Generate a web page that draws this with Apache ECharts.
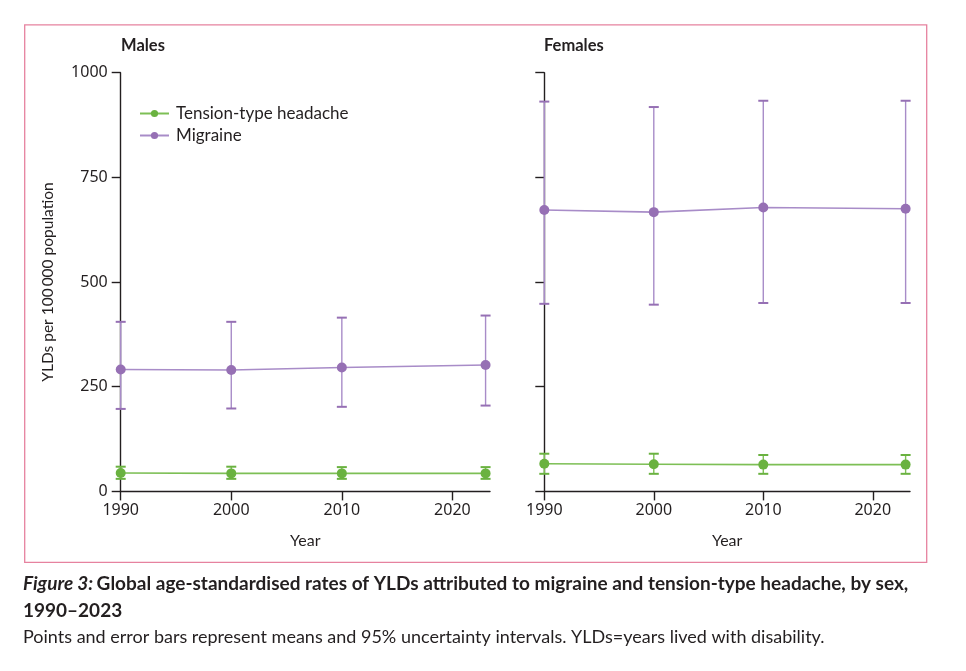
<!DOCTYPE html>
<html>
<head>
<meta charset="utf-8">
<title>Figure 3</title>
<script src="https://cdn.jsdelivr.net/npm/echarts@6/dist/echarts.min.js"></script>
<style>
  html, body { margin: 0; padding: 0; background: #fff; }
  #main { width: 966px; height: 671px; }
</style>
</head>
<body>
<div id="main"></div>
<script>
// data (YLDs per 100 000)
const years = [1990, 2000, 2010, 2023];
const xTicks = [1990, 2000, 2010, 2020];
const yTicks = [0, 250, 500, 750, 1000];

const maleMigraine = [291, 290, 296, 302];
const maleMigraineLow = [197, 198, 202, 205];
const maleMigraineHigh = [405, 405, 415, 420];
const maleTTH = [44, 43, 43, 43];
const maleTTHLow = [30, 30, 30, 30];
const maleTTHHigh = [59, 59, 58, 58];

const femaleMigraine = [672, 667, 678, 675];
const femaleMigraineLow = [448, 446, 450, 450];
const femaleMigraineHigh = [931, 918, 933, 933];
const femaleTTH = [66, 65, 64, 64];
const femaleTTHLow = [42, 42, 42, 42];
const femaleTTHHigh = [90, 90, 87, 87];

const GREEN = '#6ab240';
const GREEN_LINE = '#7dbf55';
const PURPLE = '#9670b4';
const PURPLE_LINE = '#a88cc8';
const INK = '#231f20';
const FONT = 'Lato, "Noto Sans", sans-serif';
const TICK_FONT = '"Noto Sans", Lato, sans-serif';

function pairs(vals) {
    return years.map((y, i) => [y, vals[i]]);
}

function bars(low, high) {
    return years.map((y, i) => [y, low[i], high[i]]);
}

// vertical whisker with a cap at each end
function errorBar(params, api) {
    const x = api.value(0);
    const lo = api.coord([x, api.value(1)]);
    const hi = api.coord([x, api.value(2)]);
    const half = 5;
    const style = api.style();
    return {
        type: 'group',
        children: [
            { type: 'line', shape: { x1: lo[0], y1: lo[1], x2: hi[0], y2: hi[1] },
              style: { stroke: style.fill, lineWidth: 1.4 } },
            { type: 'line', shape: { x1: lo[0] - half, y1: lo[1], x2: lo[0] + half, y2: lo[1] },
              style: { stroke: style.stroke, lineWidth: 2 } },
            { type: 'line', shape: { x1: hi[0] - half, y1: hi[1], x2: hi[0] + half, y2: hi[1] },
              style: { stroke: style.stroke, lineWidth: 2 } }
        ]
    };
}

function errorSeries(idx, data, lineColor, capColor) {
    return {
        type: 'custom',
        xAxisIndex: idx,
        yAxisIndex: idx,
        renderItem: errorBar,
        itemStyle: { color: lineColor, borderColor: capColor },
        data: data,
        z: 2,
        silent: true
    };
}

function meanSeries(idx, name, data, lineColor, dotColor) {
    return {
        type: 'line',
        name: name,
        xAxisIndex: idx,
        yAxisIndex: idx,
        data: data,
        symbol: 'circle',
        symbolSize: 10,
        showSymbol: true,
        lineStyle: { color: lineColor, width: 1.6 },
        itemStyle: { color: dotColor },
        z: 3,
        silent: true
    };
}

function plain(v) {
    return String(v);
}

function xAxis(idx) {
    return {
        type: 'value',
        gridIndex: idx,
        min: 1990,
        max: 2023.4,
        interval: 10,
        name: 'Year',
        nameLocation: 'middle',
        nameGap: 41,
        nameTextStyle: { color: INK, fontSize: 16, fontFamily: FONT },
        axisLine: { show: true, lineStyle: { color: INK, width: 1.4 } },
        axisTick: { show: true, length: 9, customValues: xTicks, lineStyle: { color: INK, width: 1.4 } },
        axisLabel: { customValues: xTicks, formatter: plain, margin: 11, color: INK, fontSize: 16, fontFamily: TICK_FONT },
        splitLine: { show: false }
    };
}

function yAxis(idx, withLabels) {
    return {
        type: 'value',
        gridIndex: idx,
        min: 0,
        max: 1000,
        interval: 250,
        name: withLabels ? 'YLDs per 100\u2009000 population' : '',
        nameLocation: 'middle',
        nameGap: 65,
        nameTextStyle: { color: INK, fontSize: 15.5, fontFamily: FONT },
        axisLine: { show: true, lineStyle: { color: INK, width: 1.4 } },
        axisTick: { show: true, length: 9, lineStyle: { color: INK, width: 1.4 } },
        axisLabel: { show: withLabels, customValues: yTicks, formatter: plain, margin: 13, color: INK, fontSize: 16, fontFamily: TICK_FONT },
        splitLine: { show: false }
    };
}

const chart = echarts.init(document.getElementById('main'), null, { renderer: 'canvas' });

const option = {
    backgroundColor: '#fff',
    animation: false,
    textStyle: { fontFamily: FONT },
    title: [
        { text: 'Males', left: 121, top: 37, padding: 0,
          textStyle: { fontSize: 16.5, fontWeight: 'bold', color: INK, fontFamily: FONT } },
        { text: 'Females', left: 544, top: 37, padding: 0,
          textStyle: { fontSize: 16.5, fontWeight: 'bold', color: INK, fontFamily: FONT } }
    ],
    legend: {
        left: 139,
        top: 105,
        padding: 0,
        orient: 'vertical',
        itemWidth: 29,
        itemHeight: 9,
        itemGap: 5,
        data: ['Tension-type headache', 'Migraine'],
        textStyle: { fontSize: 17, color: INK, fontFamily: FONT, padding: [0, 0, 0, 2] }
    },
    grid: [
        { left: 120.7, top: 72.7, width: 369.3, height: 418.7 },
        { left: 544.3, top: 72.7, width: 365.7, height: 418.7 }
    ],
    xAxis: [xAxis(0), xAxis(1)],
    yAxis: [yAxis(0, true), yAxis(1, false)],
    series: [
        errorSeries(0, bars(maleMigraineLow, maleMigraineHigh), PURPLE_LINE, PURPLE),
        errorSeries(0, bars(maleTTHLow, maleTTHHigh), GREEN_LINE, GREEN),
        errorSeries(1, bars(femaleMigraineLow, femaleMigraineHigh), PURPLE_LINE, PURPLE),
        errorSeries(1, bars(femaleTTHLow, femaleTTHHigh), GREEN_LINE, GREEN),
        meanSeries(0, 'Tension-type headache', pairs(maleTTH), GREEN_LINE, GREEN),
        meanSeries(0, 'Migraine', pairs(maleMigraine), PURPLE_LINE, PURPLE),
        meanSeries(1, 'Tension-type headache', pairs(femaleTTH), GREEN_LINE, GREEN),
        meanSeries(1, 'Migraine', pairs(femaleMigraine), PURPLE_LINE, PURPLE)
    ],
    graphic: [
        { type: 'rect', shape: { x: 24.7, y: 24.8, width: 902, height: 537.5 },
          style: { fill: 'none', stroke: '#e6829f', lineWidth: 1.3 }, silent: true },
        { type: 'text', left: 23, top: 574,
          style: {
              text: '{i|Figure 3:} {b|Global age-standardised rates of YLDs attributed to migraine and tension-type headache, by sex,}',
              rich: {
                  i: { fontSize: 19, fontStyle: 'italic', fontWeight: 'bold', fill: INK, fontFamily: FONT },
                  b: { fontSize: 19, fontWeight: 'bold', fill: INK, fontFamily: FONT }
              }
          } },
        { type: 'text', left: 23, top: 601,
          style: { text: '1990\u20132023', fontSize: 19, fontWeight: 'bold', fill: INK, fontFamily: FONT } },
        { type: 'text', left: 23, top: 628,
          style: { text: 'Points and error bars represent means and 95% uncertainty intervals. YLDs=years lived with disability.',
                   fontSize: 18, fill: INK, fontFamily: FONT } }
    ]
};

chart.setOption(option);
</script>
</body>
</html>
